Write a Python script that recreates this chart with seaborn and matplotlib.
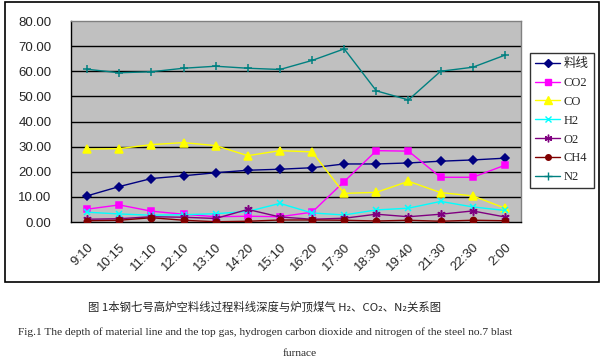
import matplotlib
matplotlib.use("Agg")
import matplotlib.pyplot as plt
import seaborn as sns
import pandas as pd
import numpy as np
from matplotlib.patches import Rectangle
from matplotlib.lines import Line2D

times = ["9:10", "10:15", "11:10", "12:10", "13:10", "14:20", "15:10",
         "16:20", "17:30", "18:30", "19:40", "21:30", "22:30", "2:00"]
liaoxian = [10.4, 14.1, 17.3, 18.4, 19.6, 20.6, 21.0, 21.6, 23.1, 23.1, 23.5, 24.2, 24.7, 25.4]
co2 = [5.1, 6.8, 4.3, 3.1, 2.1, 2.3, 2.1, 3.9, 16.1, 28.4, 28.2, 17.8, 17.8, 22.6]
co = [29.0, 29.2, 30.8, 31.6, 30.4, 26.4, 28.4, 27.9, 11.4, 11.8, 16.2, 11.7, 10.4, 5.5]
h2 = [3.9, 3.2, 2.7, 2.9, 3.3, 4.2, 7.4, 3.6, 2.8, 4.8, 5.5, 8.2, 6.0, 4.6]
o2 = [1.1, 1.3, 2.1, 1.9, 1.4, 5.0, 2.0, 1.1, 1.5, 3.1, 2.1, 3.1, 4.4, 2.0]
ch4 = [0.5, 0.7, 1.7, 0.7, 0.1, 0.3, 0.8, 0.8, 0.7, 0.4, 0.7, 0.3, 0.7, 0.5]
n2 = [60.8, 59.4, 59.8, 61.2, 62.0, 61.2, 60.7, 64.3, 68.9, 52.2, 48.6, 60.0, 61.6, 66.4]
series_names = ["料线", "CO2", "CO", "H2", "O2", "CH4", "N2"]
yticks = [0, 10, 20, 30, 40, 50, 60, 70, 80]

caption_cn = "图 1本钢七号高炉空料线过程料线深度与炉顶煤气 H₂、CO₂、N₂关系图"
caption_en1 = "Fig.1 The depth of material line and the top gas, hydrogen carbon dioxide and nitrogen of the steel no.7 blast"
caption_en2 = "furnace"

sns.set_style("white")
plt.rcParams['font.family'] = ['Liberation Serif', 'Noto Sans CJK SC', 'DejaVu Sans']

values = [liaoxian, co2, co, h2, o2, ch4, n2]
rows = []
for name, vals in zip(series_names, values):
    for i, v in enumerate(vals):
        rows.append({"idx": i, "time": times[i], "value": v, "series": name})
df = pd.DataFrame(rows)

colors = {"料线": "#000080", "CO2": "#FF00FF", "CO": "#FFFF00", "H2": "#00FFFF",
          "O2": "#800080", "CH4": "#800000", "N2": "#008080"}
asterisk = (6, 2, 0)
markers = {"料线": "D", "CO2": "s", "CO": "^", "H2": "x",
           "O2": asterisk, "CH4": "o", "N2": "+"}
msizes = {"料线": 4.5, "CO2": 5, "CO": 6, "H2": 5, "O2": 6, "CH4": 4.5, "N2": 6}

fig = plt.figure(figsize=(6.04, 3.64), dpi=100)
ax = fig.add_axes([71/604, 1 - 222/364, 450/604, 201/364])
ax.set_facecolor("#C0C0C0")

for name in series_names:
    sub = df[df["series"] == name]
    sns.lineplot(data=sub, x="idx", y="value", ax=ax, color=colors[name],
                 marker=markers[name], markersize=msizes[name], linewidth=1,
                 markeredgecolor=colors[name], markeredgewidth=1.1,
                 sort=False, legend=False, zorder=3)

tick_fam = ['Liberation Sans', 'DejaVu Sans']
ax.set_xlim(-0.5, len(times) - 0.5)
ax.set_ylim(0, 80)
ax.set_yticks(yticks)
ax.set_yticklabels([f"{v:.2f}" for v in yticks], fontsize=9.5, family=tick_fam)
for y in yticks[1:-1]:
    ax.axhline(y, color="black", linewidth=1, zorder=1)
ax.set_xticks(range(len(times)))
ax.set_xticklabels(times, rotation=45, ha="right", va="top",
                   rotation_mode="anchor", fontsize=9.5, family=tick_fam)
ax.tick_params(axis="x", which="major", length=0, pad=14)
ax.set_xticks(np.arange(0.5, len(times) - 0.5, 1), minor=True)
ax.tick_params(axis="x", which="minor", direction="in", length=4, color="black", width=1)
ax.tick_params(axis="y", which="major", direction="out", length=3, width=1, pad=11)
ax.set_xlabel("")
ax.set_ylabel("")
for s in ["left", "bottom"]:
    ax.spines[s].set_color("black")
    ax.spines[s].set_linewidth(1)
for s in ["top", "right"]:
    ax.spines[s].set_color("#808080")
    ax.spines[s].set_linewidth(1)

handles = [Line2D([0], [0], color=colors[n], marker=markers[n], markersize=msizes[n] - 0.5,
                  markeredgecolor=colors[n], linewidth=1) for n in series_names]
leg = fig.legend(handles, series_names, loc="upper left",
                 bbox_to_anchor=(530/604, 1 - 53/364), fontsize=9,
                 frameon=True, fancybox=False, edgecolor="black",
                 handlelength=2.0, labelspacing=0.55, borderpad=0.4,
                 handletextpad=0.3, borderaxespad=0)
leg.get_frame().set_linewidth(1)

fig.patches.append(Rectangle((5/604, 1 - 282/364), 594/604, 280/364,
                             transform=fig.transFigure, fill=False,
                             edgecolor="black", linewidth=1.2))

cap_fam = ['Noto Sans CJK SC', 'DejaVu Sans']
fig.text(264.5/604, 1 - 307/364, caption_cn, ha="center", va="center",
         fontsize=8.2, family=cap_fam)
fig.text(265/604, 1 - 332/364, caption_en1, ha="center", va="center",
         fontsize=8.2, family=['Liberation Serif'])
fig.text(300/604, 1 - 354/364, caption_en2, ha="center", va="center",
         fontsize=8.2, family=['Liberation Serif'])

fig.savefig("out.png", dpi=100)
